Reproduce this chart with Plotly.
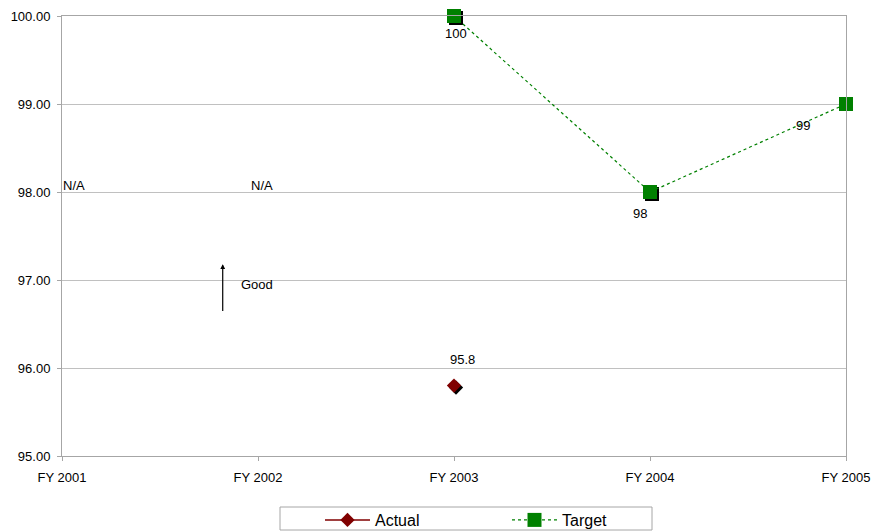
import plotly.graph_objects as go

# Fiscal years and measured / targeted values
years = ["FY 2001", "FY 2002", "FY 2003", "FY 2004", "FY 2005"]
actual = [None, None, 95.8, None, None]
target = [None, None, 100, 98, 99]
y_ticks = [95, 96, 97, 98, 99, 100]
na_years = ["FY 2001", "FY 2002"]

FONT = "Liberation Sans, Arial, sans-serif"
RED = "#800000"
GREEN = "#008000"
GRID = "#c0c0c0"
AXIS = "#a6a6a6"

# plot-area geometry (px) used for the drop shadow offset
W, H = 875, 531
ML, MR, MT, MB = 62, 29, 16, 75
PLOT_W, PLOT_H = W - ML - MR, H - MT - MB
X_RANGE = [0, len(years) - 1]
Y_RANGE = [95, 100]
SHADOW = 2
dx = SHADOW * (X_RANGE[1] - X_RANGE[0]) / PLOT_W
dy = SHADOW * (Y_RANGE[1] - Y_RANGE[0]) / PLOT_H

fig = go.Figure()

# drop shadows: same data on a hidden axis pair shifted 2px right/down
fig.add_trace(go.Scatter(x=years, y=actual, mode="markers", xaxis="x", yaxis="y",
                         marker=dict(symbol="diamond", size=11, color="black"),
                         cliponaxis=False, showlegend=False, hoverinfo="skip"))
fig.add_trace(go.Scatter(x=years, y=target, mode="markers", xaxis="x", yaxis="y",
                         marker=dict(symbol="square", size=14, color="black"),
                         cliponaxis=False, showlegend=False, hoverinfo="skip"))

# visible series
fig.add_trace(go.Scatter(x=years, y=actual, name="Actual", mode="lines+markers",
                         xaxis="x2", yaxis="y2", cliponaxis=False,
                         line=dict(color=RED, width=1.5),
                         marker=dict(symbol="diamond", size=11, color=RED)))
fig.add_trace(go.Scatter(x=years, y=target, name="Target", mode="lines+markers",
                         xaxis="x2", yaxis="y2", cliponaxis=False, connectgaps=False,
                         line=dict(color=GREEN, width=1.2, dash="dot"),
                         marker=dict(symbol="square", size=14, color=GREEN)))

annotations = []

# value labels, each placed relative to its own point
label_shift = {"actual": [(2, 8, 26)], "target": [(2, 2, -17), (3, -10, -21), (4, -43, -21)]}
for series, values in (("actual", actual), ("target", target)):
    for idx, xs, ys in label_shift[series]:
        v = values[idx]
        annotations.append(dict(x=years[idx], y=v, xref="x2", yref="y2",
                                text=f"{v:g}", showarrow=False,
                                xshift=xs, yshift=ys,
                                font=dict(family=FONT, size=13, color="black")))

# years without data
annotations.append(dict(x=na_years[0], y=98, xref="x2", yref="y2", text="N/A",
                        showarrow=False, xanchor="left", xshift=-1, yshift=7,
                        font=dict(family=FONT, size=13, color="black")))
annotations.append(dict(x=na_years[1], y=98, xref="x2", yref="y2", text="N/A",
                        showarrow=False, xanchor="center", xshift=4, yshift=7,
                        font=dict(family=FONT, size=13, color="black")))

# "Good" direction indicator
annotations.append(dict(x=0.82, y=97.18, ax=0.82, ay=96.63, xref="x2", yref="y2",
                        axref="x2", ayref="y2", text="", showarrow=True,
                        arrowhead=2, arrowsize=0.8, arrowwidth=1.2, arrowcolor="black"))
annotations.append(dict(x=0.905, y=96.95, xref="x2", yref="y2", text="Good",
                        showarrow=False, xanchor="left",
                        font=dict(family=FONT, size=13, color="black")))

# legend frame
def px_x(px):
    return (px - ML) / PLOT_W


def px_y(py):
    return (H - MB - py) / PLOT_H


shapes = [dict(type="rect", xref="paper", yref="paper",
               x0=px_x(280), x1=px_x(652), y0=px_y(507), y1=px_y(530),
               line=dict(color=AXIS, width=1), fillcolor="white", layer="below")]

hidden = dict(showgrid=False, zeroline=False, showline=False, showticklabels=False,
              ticks="", automargin=False)

fig.update_layout(
    width=W, height=H,
    autosize=False,
    margin=dict(l=ML, r=MR, t=MT, b=MB, pad=0, autoexpand=False),
    paper_bgcolor="white", plot_bgcolor="rgba(0,0,0,0)",
    font=dict(family=FONT, size=13, color="black"),
    xaxis=dict(type="category", categoryorder="array", categoryarray=years,
               range=[X_RANGE[0] - dx, X_RANGE[1] - dx], domain=[0, 1], **hidden),
    yaxis=dict(range=[Y_RANGE[0] + dy, Y_RANGE[1] + dy], domain=[0, 1], **hidden),
    xaxis2=dict(type="category", categoryorder="array", categoryarray=years,
                range=X_RANGE, overlaying="x", anchor="y2", automargin=False,
                showgrid=False, zeroline=False,
                showline=True, linecolor=AXIS, linewidth=1, mirror=True,
                ticks="outside", ticklen=4, tickcolor=AXIS,
                ticklabelstandoff=5,
                tickfont=dict(family=FONT, size=13, color="black")),
    yaxis2=dict(range=Y_RANGE, overlaying="y", anchor="x2", automargin=False,
                tickvals=y_ticks, tickformat=".2f",
                showgrid=True, gridcolor=GRID, gridwidth=1, zeroline=False,
                showline=True, linecolor=AXIS, linewidth=1, mirror=True,
                ticks="outside", ticklen=4, tickcolor=AXIS,
                ticklabelstandoff=4,
                tickfont=dict(family=FONT, size=13, color="black")),
    legend=dict(orientation="h", xref="container", yref="container",
                x=320 / W, xanchor="left", y=1 - 503 / H, yanchor="top",
                bgcolor="rgba(0,0,0,0)", borderwidth=0,
                entrywidth=127, itemwidth=45,
                font=dict(family=FONT, size=16, color="black")),
    annotations=annotations,
    shapes=shapes,
    showlegend=True,
)

fig.write_html("out.html")
